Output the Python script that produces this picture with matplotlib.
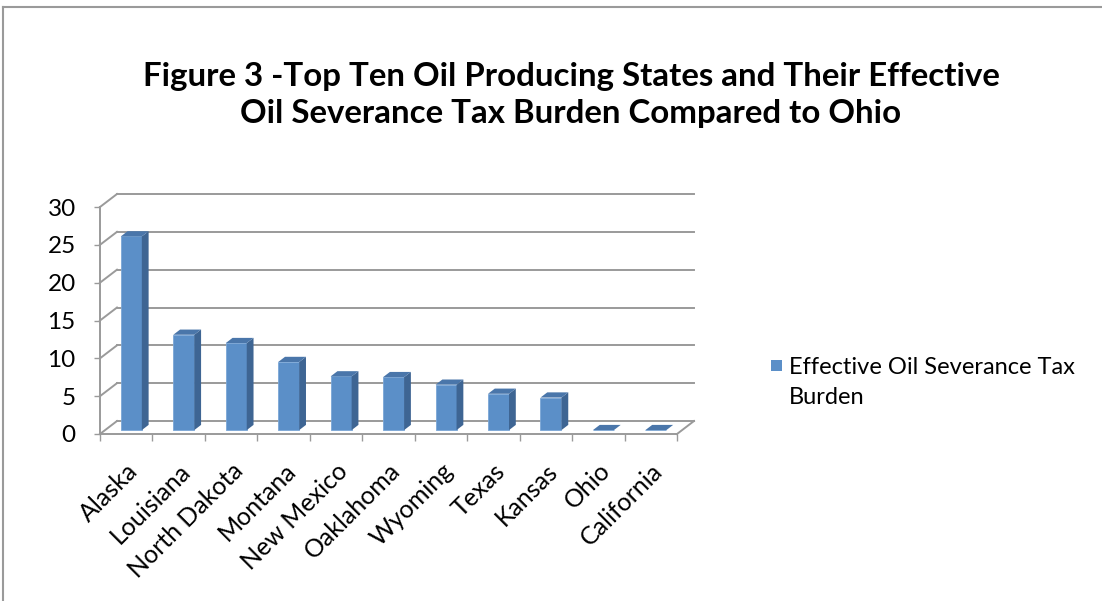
import numpy as np
import matplotlib.pyplot as plt
from matplotlib.patches import Polygon, Rectangle
from matplotlib.lines import Line2D

states = ["Alaska", "Louisiana", "North Dakota", "Montana", "New Mexico", "Oaklahoma",
          "Wyoming", "Texas", "Kansas", "Ohio", "California"]
burden = [25.6, 12.6, 11.5, 9.0, 7.1, 7.0, 6.0, 4.8, 4.3, 0.0, 0.0]
yticks = [0, 5, 10, 15, 20, 25, 30]
title = "Figure 3 -Top Ten Oil Producing States and Their Effective\nOil Severance Tax Burden Compared to Ohio"
series_name = "Effective Oil Severance Tax\nBurden"

plt.rcParams['font.family'] = ['Lato', 'DejaVu Sans']

W, H = 1102, 601
fig = plt.figure(figsize=(W / 100, H / 100), dpi=100)

# front plane of the 3D box in pixels
x0p, x1p = 100, 677
y0p, y1p = 434, 207
ax = fig.add_axes([x0p / W, 1 - y0p / H, (x1p - x0p) / W, (y0p - y1p) / H])
n = len(states)
ax.set_xlim(0, n)
ax.set_ylim(0, 30)
for s in ax.spines.values():
    s.set_visible(False)

# depth offset (front -> back wall) in data units
ddx = 17 / ((x1p - x0p) / n)
ddy = 13 / ((y0p - y1p) / 30)

grid = "#9a9a9a"
lw = 1.4
for v in yticks:
    ax.add_line(Line2D([ddx, n + ddx], [v + ddy, v + ddy], color=grid, lw=lw, clip_on=False))
    ax.add_line(Line2D([0, ddx], [v, v + ddy], color=grid, lw=lw, clip_on=False))
# floor front edge, right edge, front vertical axis
ax.add_line(Line2D([0, n], [0, 0], color=grid, lw=lw, clip_on=False))
ax.add_line(Line2D([n, n + ddx], [0, ddy], color=grid, lw=lw, clip_on=False))
ax.add_line(Line2D([0, 0], [0, 30], color=grid, lw=lw, clip_on=False))

# bars
front = "#5b8fc8"
side = "#3e6593"
top = "#4a76aa"
w = 0.4
f0, f1 = 0.3, 0.7
xc = np.arange(n) + 0.5
bx = xc + f0 * ddx
by = f0 * ddy
ax.bar(bx, burden, width=w, bottom=by, color=front, edgecolor="#7aa6d6", linewidth=0.6,
       clip_on=False, zorder=3)
d = f1 - f0
for xb, v in zip(bx, burden):
    xl, xr = xb - w / 2, xb + w / 2
    yt = by + v
    ax.add_patch(Polygon([(xr, by), (xr, yt), (xr + d * ddx, yt + d * ddy), (xr + d * ddx, by + d * ddy)],
                         closed=True, facecolor=side, edgecolor="none", clip_on=False, zorder=3))
    ax.add_patch(Polygon([(xl, yt), (xr, yt), (xr + d * ddx, yt + d * ddy), (xl + d * ddx, yt + d * ddy)],
                         closed=True, facecolor=top, edgecolor="none", clip_on=False, zorder=3))

# ticks
ax.set_yticks(yticks)
ax.set_yticklabels([str(t) for t in yticks], fontsize=17.5)
ax.tick_params(axis='y', length=4.5, width=1, color=grid, pad=13)
ax.set_xticks(xc)
ax.set_xticklabels(states, fontsize=18, rotation=45, ha='right', va='top', rotation_mode='anchor')
ax.tick_params(axis='x', which='major', length=0, pad=18)
ax.set_xticks(np.arange(n + 1), minor=True)
ax.tick_params(axis='x', which='minor', length=5, width=1, color=grid)

# title
fig.text(571 / W, 1 - 95 / H, title, ha='center', va='center', fontsize=23.8,
         fontweight='bold', linespacing=1.3)

# legend
fig.patches.append(Rectangle((771 / W, 1 - 371 / H), 11 / W, 11 / H, transform=fig.transFigure,
                             facecolor=front, edgecolor="none"))
fig.text(789 / W, 1 - 357 / H, series_name, ha='left', va='top', fontsize=17, linespacing=1.5)

# chart border (top and left visible)
fig.add_artist(Line2D([3 / W, 1], [1 - 7 / H, 1 - 7 / H], transform=fig.transFigure, color="#9a9a9a", lw=1.5))
fig.add_artist(Line2D([3 / W, 3 / W], [0, 1 - 7 / H], transform=fig.transFigure, color="#9a9a9a", lw=1.5))

fig.savefig("out.png", dpi=100)
